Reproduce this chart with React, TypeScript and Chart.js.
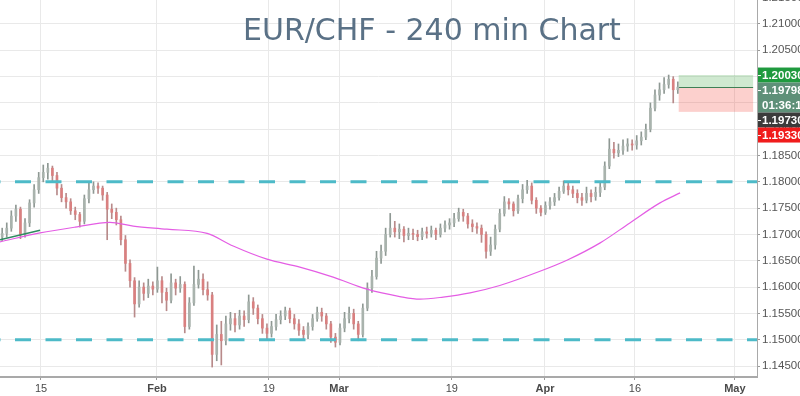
import React, { useEffect, useRef } from "react";
import { Chart, registerables } from "chart.js";

Chart.register(...registerables);

const TITLE = "EUR/CHF - 240 min Chart";

// x axis: candle index units (two candles per trading day)
const X_MIN = -0.48;
const X_MAX = 165.35;
const X_TICK_POS = [8.5, 33.9, 58.4, 73.8, 98.5, 118.9, 138.6, 160.5];
const X_TICK_LABELS = ["15", "Feb", "19", "Mar", "19", "Apr", "16", "May"];

const Y_MIN = 1.14291;
const Y_MAX = 1.21456;
const Y_TICKS = [1.145, 1.15, 1.155, 1.16, 1.165, 1.17, 1.175, 1.18, 1.185, 1.19, 1.195, 1.2, 1.205, 1.21, 1.215];

const FIRST_OPEN = 1.1695;
const CLOSES = [
  1.1702, 1.1712, 1.1735, 1.1748, 1.17, 1.1722, 1.176, 1.1785, 1.1808, 1.1818,
  1.1826, 1.1812, 1.1788, 1.177, 1.1762, 1.1745, 1.1738, 1.1725, 1.1768, 1.1785,
  1.1792, 1.1788, 1.1775, 1.1748, 1.1742, 1.1728, 1.169, 1.1645, 1.1612, 1.1568,
  1.16, 1.1588, 1.1602, 1.1596, 1.1612, 1.159, 1.1575, 1.1608, 1.1598, 1.1605,
  1.1525, 1.157, 1.1605, 1.1615, 1.1595, 1.1585, 1.1472, 1.151, 1.1498, 1.153,
  1.154, 1.1528, 1.1545, 1.1538, 1.1572, 1.156, 1.154, 1.1522, 1.1512, 1.1525,
  1.1538, 1.1545, 1.1555, 1.154, 1.153, 1.1518, 1.151, 1.1525, 1.154, 1.1552,
  1.1545, 1.153, 1.1505, 1.1495, 1.1522, 1.154, 1.155, 1.153, 1.151, 1.156,
  1.1598, 1.162, 1.1655, 1.1668, 1.17, 1.1712, 1.1705, 1.171, 1.1698, 1.1702,
  1.17, 1.1696, 1.1705, 1.1702, 1.1708, 1.17, 1.1712, 1.1718, 1.1722, 1.173,
  1.1742, 1.1735, 1.172, 1.1715, 1.1712, 1.17, 1.1668, 1.168, 1.171, 1.174,
  1.1762, 1.1758, 1.1745, 1.1768, 1.1785, 1.1792, 1.1765, 1.175, 1.1742, 1.1755,
  1.1762, 1.177, 1.1782, 1.1792, 1.1785, 1.1778, 1.177, 1.1765, 1.1778, 1.1772,
  1.178, 1.179, 1.183, 1.1862, 1.1855, 1.186, 1.1868, 1.1872, 1.187, 1.1878,
  1.1885, 1.19, 1.194, 1.1965, 1.1975, 1.1985, 1.1995, 1.1975, 1.198,
];
const HIGHS = [
  1.1712, 1.1722, 1.1745, 1.1756, 1.1752, 1.173, 1.1766, 1.1795, 1.1818, 1.1832,
  1.1835, 1.183, 1.1818, 1.1795, 1.1778, 1.1768, 1.1752, 1.1742, 1.1775, 1.1798,
  1.18, 1.1798, 1.1792, 1.178, 1.1758, 1.175, 1.1735, 1.1698, 1.1652, 1.1618,
  1.1612, 1.1608, 1.1615, 1.161, 1.1638, 1.162, 1.1598, 1.1625, 1.1615, 1.162,
  1.161, 1.158, 1.164, 1.1632, 1.1625, 1.161, 1.159, 1.1528, 1.1535, 1.1545,
  1.1552, 1.155, 1.1556, 1.1555, 1.1585, 1.158, 1.1566, 1.1548, 1.153, 1.1535,
  1.1548, 1.1555, 1.1562, 1.156, 1.1548, 1.1538, 1.1525, 1.1532, 1.1548, 1.1562,
  1.156, 1.155, 1.1535, 1.1512, 1.153, 1.1552, 1.1562, 1.1558, 1.1535, 1.1568,
  1.1608, 1.1632, 1.1668, 1.168, 1.1712, 1.174, 1.1725, 1.172, 1.1715, 1.1712,
  1.171, 1.1708, 1.1712, 1.1714, 1.1716, 1.1712, 1.172, 1.1726, 1.173, 1.174,
  1.175, 1.1748, 1.174, 1.1728, 1.1722, 1.1718, 1.1705, 1.1695, 1.1718, 1.1748,
  1.1772, 1.1768, 1.1762, 1.1775, 1.1795, 1.1803, 1.1798, 1.177, 1.1755, 1.1762,
  1.177, 1.1778, 1.179, 1.1802, 1.1798, 1.1792, 1.1785, 1.1778, 1.179, 1.1785,
  1.179, 1.18, 1.1838, 1.1882, 1.1875, 1.1872, 1.188, 1.1882, 1.188, 1.1888,
  1.1895, 1.191, 1.195, 1.1975, 1.1988, 1.1998, 1.2003, 1.2, 1.199,
];
const LOWS = [
  1.1688, 1.1695, 1.1706, 1.1725, 1.1692, 1.1695, 1.1715, 1.1752, 1.1778, 1.18,
  1.1805, 1.18, 1.1775, 1.1762, 1.175, 1.1738, 1.1728, 1.1714, 1.172, 1.176,
  1.1778, 1.1778, 1.1765, 1.169, 1.173, 1.1718, 1.168, 1.163, 1.16, 1.1543,
  1.1562, 1.1575, 1.158, 1.1585, 1.159, 1.157, 1.1555, 1.157, 1.1585, 1.159,
  1.1513, 1.152, 1.1565, 1.1598, 1.1585, 1.1575, 1.1448, 1.146, 1.1452, 1.149,
  1.1518, 1.1515, 1.152, 1.1525, 1.1532, 1.1548, 1.153, 1.1512, 1.1502, 1.1505,
  1.1518, 1.153, 1.1538, 1.1532, 1.152, 1.1508, 1.1502, 1.1502, 1.1518, 1.1535,
  1.1535, 1.152, 1.1495, 1.1486, 1.149, 1.1515, 1.1532, 1.152, 1.1498, 1.1505,
  1.1555, 1.159, 1.1615, 1.1645, 1.166, 1.1695, 1.1695, 1.1692, 1.1686, 1.169,
  1.169, 1.1688, 1.169, 1.1693, 1.1695, 1.169, 1.1695, 1.1705, 1.171, 1.1715,
  1.1725, 1.1725, 1.1712, 1.1705, 1.1702, 1.1685, 1.1655, 1.166, 1.1672, 1.1705,
  1.1735, 1.1748, 1.1735, 1.174, 1.176, 1.1778, 1.1758, 1.174, 1.1735, 1.1738,
  1.1748, 1.1755, 1.1765, 1.1778, 1.1775, 1.177, 1.176, 1.1755, 1.176, 1.1762,
  1.1765, 1.1772, 1.1785, 1.1825, 1.1845, 1.1848, 1.1852, 1.1858, 1.186, 1.1862,
  1.187, 1.188, 1.1895, 1.1935, 1.1955, 1.1968, 1.1978, 1.195, 1.1968,
];

// moving average (magenta) and short average (green)
const MA_X = [-0.48, 8.3, 16, 23.6, 28.7, 36.1, 44.9, 50.6, 58, 65.2, 72.5, 79.9, 87.1, 91.5, 96.6, 102.5, 109, 117.8, 123.7, 131, 137.5, 144.1, 148.5];
const MA_Y = [1.1686, 1.1703, 1.1714, 1.1723, 1.1716, 1.171, 1.1702, 1.1678, 1.1653, 1.1638, 1.1619, 1.1596, 1.1582, 1.1577, 1.1581, 1.1589, 1.1603, 1.163, 1.1651, 1.1684, 1.1722, 1.176, 1.1779];
const SHORT_X = [-0.48, 8.3];
const SHORT_Y = [1.169, 1.1708];

const LEVELS = [1.18, 1.15];

const ZONE_FROM = 148.2;
const ZONE_TO = 164.5;
const TARGET = 1.2003;
const ENTRY = 1.19798;
const LAST = 1.1973;
const STOP = 1.1933;
const COUNTDOWN = "01:36:16";

const FONT = "'Liberation Sans', Arial, sans-serif";

export default function App() {
  const ref = useRef<HTMLCanvasElement | null>(null);

  useEffect(() => {
    if (!ref.current) return;
    const opens = CLOSES.map((_, i) => (i === 0 ? FIRST_OPEN : CLOSES[i - 1]));
    const up = CLOSES.map((c, i) => c >= opens[i]);

    const overlay = {
      id: "overlay",
      beforeDatasetsDraw(chart: any) {
        const { ctx, scales } = chart;
        const x = scales.x, y = scales.y;
        const x0 = x.getPixelForValue(ZONE_FROM);
        const x1 = x.getPixelForValue(ZONE_TO);
        const yT = y.getPixelForValue(TARGET);
        const yE = y.getPixelForValue(ENTRY);
        const yS = y.getPixelForValue(STOP);
        ctx.save();
        ctx.fillStyle = "rgba(76,175,80,0.27)";
        ctx.fillRect(x0, yT, x1 - x0, yE - yT);
        ctx.fillStyle = "rgba(244,67,54,0.25)";
        ctx.fillRect(x0, yE, x1 - x0, yS - yE);
        ctx.strokeStyle = "#3f7f55";
        ctx.lineWidth = 1;
        ctx.beginPath();
        ctx.moveTo(x0, Math.round(yE) + 0.5);
        ctx.lineTo(x1, Math.round(yE) + 0.5);
        ctx.stroke();
        // title
        ctx.fillStyle = "#5a7186";
        ctx.font = "30px 'DejaVu Sans', sans-serif";
        ctx.textAlign = "left";
        ctx.textBaseline = "alphabetic";
        ctx.fillText(TITLE, 243, 40);
        ctx.restore();
      },
      afterDraw(chart: any) {
        const { ctx, scales, chartArea } = chart;
        const y = scales.y;
        const left = chartArea.right;
        const w = chart.width - left;
        const h = 15;
        let top = y.getPixelForValue(TARGET) - h / 2;
        const boxes = [
          { lines: [TARGET.toFixed(5)], bg: "#1f9a3e" },
          { lines: [ENTRY.toFixed(5), COUNTDOWN], bg: "#5e9078" },
          { lines: [LAST.toFixed(5)], bg: "#3b3b3b" },
          { lines: [STOP.toFixed(5)], bg: "#f01c1c" },
        ];
        ctx.save();
        ctx.font = `bold 11.5px ${FONT}`;
        ctx.textBaseline = "middle";
        ctx.textAlign = "left";
        for (const b of boxes) {
          const bh = h * b.lines.length;
          ctx.fillStyle = b.bg;
          ctx.fillRect(left + 1, top, w, bh);
          ctx.fillStyle = "#ffffff";
          b.lines.forEach((t, k) => {
            ctx.fillText(t, left + 5, top + h * k + h / 2 + 0.5);
          });
          ctx.fillRect(left + 1, top + h / 2, 3, 1);
          top += bh;
        }
        ctx.restore();
      },
    };

    const chart = new Chart(ref.current, {
      type: "bar",
      data: {
        datasets: [
          {
            type: "line",
            data: [{ x: X_MIN, y: LEVELS[0] }, { x: X_MAX, y: LEVELS[0] }],
            borderColor: "#4dbac8",
            borderWidth: 3,
            borderDash: [16, 14.5],
            borderDashOffset: 15.5,
            pointRadius: 0,
            order: 1,
          } as any,
          {
            type: "line",
            data: [{ x: X_MIN, y: LEVELS[1] }, { x: X_MAX, y: LEVELS[1] }],
            borderColor: "#4dbac8",
            borderWidth: 3,
            borderDash: [16, 14.5],
            borderDashOffset: 15.5,
            pointRadius: 0,
            order: 1,
          } as any,
          {
            type: "line",
            data: MA_X.map((v, i) => ({ x: v, y: MA_Y[i] })),
            borderColor: "#e45de4",
            borderWidth: 1.2,
            pointRadius: 0,
            cubicInterpolationMode: "monotone",
            order: 2,
          } as any,
          {
            type: "line",
            data: SHORT_X.map((v, i) => ({ x: v, y: SHORT_Y[i] })),
            borderColor: "#2f8a60",
            borderWidth: 1.5,
            pointRadius: 0,
            order: 2,
          } as any,
          {
            type: "bar",
            data: CLOSES.map((c, i) => ({ x: i, y: [opens[i], c] })),
            backgroundColor: up.map((u) => (u ? "#a9b3ad" : "#d98080")),
            barThickness: 2,
            minBarLength: 1,
            grouped: false,
            order: 3,
          } as any,
          {
            type: "bar",
            data: CLOSES.map((_, i) => ({ x: i, y: [LOWS[i], HIGHS[i]] })),
            backgroundColor: up.map((u) => (u ? "#8e9893" : "#b88a8a")),
            barThickness: 1,
            grouped: false,
            order: 4,
          } as any,
        ],
      },
      options: {
        animation: false,
        responsive: false,
        maintainAspectRatio: false,
        layout: { padding: 0 },
        plugins: {
          legend: { display: false },
          tooltip: { enabled: false },
          title: { display: false },
        },
        scales: {
          x: {
            type: "linear",
            min: X_MIN,
            max: X_MAX,
            offset: false,
            afterBuildTicks: (s: any) => {
              s.ticks = X_TICK_POS.map((v) => ({ value: v }));
            },
            afterFit: (s: any) => {
              s.height = 19;
              s.paddingLeft = 0;
              s.paddingRight = 0;
            },
            ticks: {
              autoSkip: false,
              maxRotation: 0,
              padding: 2,
              color: "#4a4a4a",
              callback: (_v: any, i: number) => X_TICK_LABELS[i],
              font: (ctx: any) => ({
                size: 11,
                family: FONT,
                weight: /[A-Za-z]/.test(X_TICK_LABELS[ctx.index] || "") ? "bold" : "normal",
              }),
            },
            grid: { color: "#e9e9e9", tickLength: 3, tickColor: "#9a9a9a", offset: false },
            border: { color: "#a9a9a9", width: 2 },
          },
          y: {
            type: "linear",
            position: "right",
            min: Y_MIN,
            max: Y_MAX,
            afterBuildTicks: (s: any) => {
              s.ticks = Y_TICKS.map((v) => ({ value: v }));
            },
            afterFit: (s: any) => {
              s.width = 43;
              s.paddingTop = 0;
              s.paddingBottom = 0;
            },
            ticks: {
              padding: 2,
              color: "#555555",
              font: { size: 11.5, family: FONT },
              callback: (v: any) => Number(v).toFixed(5),
            },
            grid: { color: "#e9e9e9", tickLength: 3, tickColor: "#9a9a9a" },
            border: { color: "#a9a9a9", width: 1 },
          },
        },
      } as any,
      plugins: [overlay],
    });
    return () => chart.destroy();
  }, []);

  return (
    <div style={{ position: "fixed", left: 0, top: 0, width: 800, height: 396, background: "#fff" }}>
      <canvas ref={ref} width={800} height={396} style={{ display: "block" }} />
    </div>
  );
}
